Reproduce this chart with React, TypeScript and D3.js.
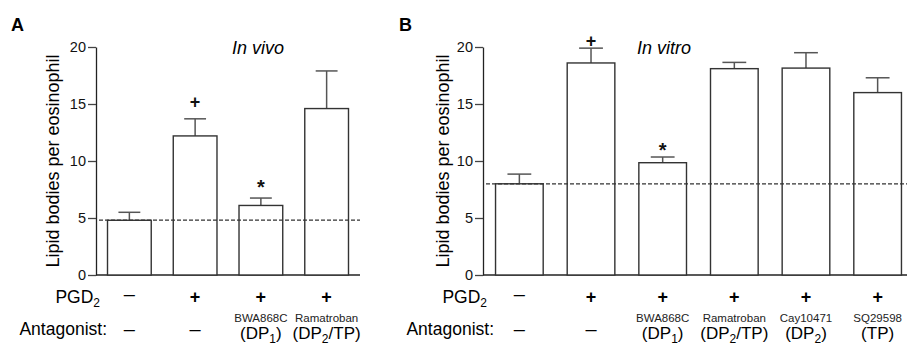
import React, { useEffect, useRef } from 'react';
import * as d3 from 'd3';

// panel A (in vivo)
const vivoMeans = [4.8, 12.2, 6.1, 14.6];
const vivoErr = [0.7, 1.5, 0.65, 3.3];
const vivoPGD = ['–', '+', '+', '+'];
const vivoDrug = ['', '', 'BWA868C', 'Ramatroban'];
const vivoTarget = ['–', '–', 'DP1', 'DP2/TP'];
const vivoMarks = ['', '+', '*', ''];

// panel B (in vitro)
const vitroMeans = [8.0, 18.6, 9.85, 18.1, 18.15, 16.0];
const vitroErr = [0.85, 1.3, 0.5, 0.55, 1.35, 1.3];
const vitroPGD = ['–', '+', '+', '+', '+', '+'];
const vitroDrug = ['', '', 'BWA868C', 'Ramatroban', 'Cay10471', 'SQ29598'];
const vitroTarget = ['–', '–', 'DP1', 'DP2/TP', 'DP2', 'TP'];
const vitroMarks = ['', '+', '*', '', '', ''];

const yTicks = [0, 5, 10, 15, 20];

const FONT = 'Liberation Sans, Arial, sans-serif';

interface PanelOpts {
  letter: string;
  letterX: number;
  title: string;
  titleX: number;
  x0: number;
  x1: number;
  axisEnd: number;
  means: number[];
  errs: number[];
  pgd: string[];
  drugs: string[];
  targets: string[];
  marks: string[];
  markGap: number[];
  baseline: number;
  labelX: number;
}

const App: React.FC = () => {
  const svgRef = useRef<SVGSVGElement | null>(null);

  useEffect(() => {
    if (!svgRef.current) return;
    const svg = d3.select(svgRef.current);
    svg.selectAll('*').remove();

    const y = d3.scaleLinear().domain([0, 20]).range([275, 47]);

    const drawPanel = (o: PanelOpts) => {
      const g = svg.append('g');
      const idx = o.means.map((_, i) => i);
      const x = d3.scaleBand<number>()
        .domain(idx)
        .range([o.x0, o.x1])
        .paddingInner(0.335)
        .paddingOuter(0.175);
      const bw = x.bandwidth();

      // y axis
      const ax = g.append('g')
        .attr('transform', `translate(${o.x0},0)`)
        .call(d3.axisLeft(y).tickValues(yTicks).tickSize(8).tickPadding(2).tickSizeOuter(0));
      ax.select('.domain').attr('stroke', '#222').attr('stroke-width', 1.3);
      ax.selectAll('.tick line').attr('stroke', '#444').attr('stroke-width', 1.3);
      ax.selectAll('.tick text')
        .attr('font-family', FONT).attr('font-size', 14.5).attr('fill', '#111');

      // x baseline
      g.append('line')
        .attr('x1', o.x0).attr('x2', o.axisEnd)
        .attr('y1', y(0)).attr('y2', y(0))
        .attr('stroke', '#222').attr('stroke-width', 1.3);

      // error bars (upper only)
      idx.forEach(i => {
        const cx = (x(i) as number) + bw / 2;
        const top = y(o.means[i] + o.errs[i]);
        g.append('line')
          .attr('x1', cx).attr('x2', cx)
          .attr('y1', y(o.means[i])).attr('y2', top)
          .attr('stroke', '#555').attr('stroke-width', 1.5);
        g.append('line')
          .attr('x1', cx - bw * 0.25).attr('x2', cx + bw * 0.25)
          .attr('y1', top).attr('y2', top)
          .attr('stroke', '#555').attr('stroke-width', 1.5);
      });

      // bars
      g.selectAll('.bar')
        .data(idx)
        .enter()
        .append('rect')
        .attr('x', d => x(d) as number)
        .attr('y', d => y(o.means[d]))
        .attr('width', bw)
        .attr('height', d => y(0) - y(o.means[d]))
        .attr('fill', 'white')
        .attr('stroke', '#333')
        .attr('stroke-width', 1.4);

      // dashed control line
      g.append('line')
        .attr('x1', o.x0 + 3).attr('x2', o.axisEnd)
        .attr('y1', y(o.baseline)).attr('y2', y(o.baseline))
        .attr('stroke', '#333').attr('stroke-width', 1.2)
        .attr('stroke-dasharray', '4,2');

      // significance marks
      idx.forEach(i => {
        if (!o.marks[i]) return;
        const cx = (x(i) as number) + bw / 2;
        const star = o.marks[i] === '*';
        const size = star ? 20 : 18;
        const centre = y(o.means[i] + o.errs[i]) - o.markGap[i];
        g.append('text')
          .attr('x', cx).attr('y', centre + (star ? 0.57 : 0.35) * size)
          .attr('text-anchor', 'middle')
          .attr('font-family', FONT).attr('font-weight', 'bold')
          .attr('font-size', size)
          .attr('fill', '#111')
          .text(o.marks[i]);
      });

      // titles
      g.append('text')
        .attr('x', o.letterX).attr('y', 31)
        .attr('font-family', FONT).attr('font-weight', 'bold').attr('font-size', 18)
        .text(o.letter);
      g.append('text')
        .attr('x', o.titleX).attr('y', 54)
        .attr('text-anchor', 'middle')
        .attr('font-family', FONT).attr('font-style', 'italic').attr('font-size', 18)
        .text(o.title);

      g.append('text')
        .attr('transform', `translate(${o.labelX},${(y(0) + y(20)) / 2}) rotate(-90)`)
        .attr('text-anchor', 'middle')
        .attr('font-family', FONT).attr('font-size', 18)
        .text('Lipid bodies per eosinophil');

      // condition rows
      const pg = g.append('text')
        .attr('x', o.x0 + 4).attr('y', 303)
        .attr('font-family', FONT).attr('font-size', 17.5).attr('text-anchor', 'end');
      pg.append('tspan').text('PGD');
      pg.append('tspan').attr('font-size', 12).attr('dy', 4).text('2');

      g.append('text')
        .attr('x', o.x0 + 11).attr('y', 335)
        .attr('text-anchor', 'end')
        .attr('font-family', FONT).attr('font-size', 17.5)
        .text('Antagonist:');

      idx.forEach(i => {
        const cx = (x(i) as number) + bw / 2;
        const plus = o.pgd[i] === '+';
        g.append('text')
          .attr('x', cx).attr('y', plus ? 303 : 301)
          .attr('text-anchor', 'middle')
          .attr('font-family', FONT)
          .attr('font-size', plus ? 18 : 20)
          .attr('font-weight', plus ? 'bold' : 'normal')
          .text(o.pgd[i]);
        if (o.targets[i] === '–') {
          g.append('text')
            .attr('x', cx).attr('y', 336)
            .attr('text-anchor', 'middle')
            .attr('font-family', FONT).attr('font-size', 20)
            .text('–');
          return;
        }
        g.append('text')
          .attr('x', cx).attr('y', 322)
          .attr('text-anchor', 'middle')
          .attr('font-family', FONT).attr('font-size', 11.5).attr('fill', '#222')
          .text(o.drugs[i]);
        const t = g.append('text')
          .attr('x', cx).attr('y', 339)
          .attr('text-anchor', 'middle')
          .attr('font-family', FONT).attr('font-size', 17);
        const m = o.targets[i].match(/^(DP)(\d)(.*)$/);
        if (m) {
          t.append('tspan').text('(' + m[1]);
          t.append('tspan').attr('font-size', 12).attr('dy', 4).text(m[2]);
          t.append('tspan').attr('dy', -4).text(m[3] + ')');
        } else {
          t.text('(' + o.targets[i] + ')');
        }
      });
    };

    drawPanel({
      letter: 'A', letterX: 11, title: 'In vivo', titleX: 258,
      x0: 96, x1: 360, axisEnd: 360,
      means: vivoMeans, errs: vivoErr, pgd: vivoPGD, drugs: vivoDrug,
      targets: vivoTarget, marks: vivoMarks, markGap: [0, 17, 15, 0],
      baseline: 4.82, labelX: 59,
    });
    drawPanel({
      letter: 'B', letterX: 399, title: 'In vitro', titleX: 664,
      x0: 483, x1: 914, axisEnd: 907,
      means: vitroMeans, errs: vitroErr, pgd: vitroPGD, drugs: vitroDrug,
      targets: vitroTarget, marks: vitroMarks, markGap: [0, 7.6, 11, 0, 0, 0],
      baseline: 8.0, labelX: 449,
    });
  }, []);

  return (
    <svg ref={svgRef} width={907} height={348}
      style={{ position: 'absolute', left: 0, top: 0, background: 'white' }} />
  );
};

export default App;
